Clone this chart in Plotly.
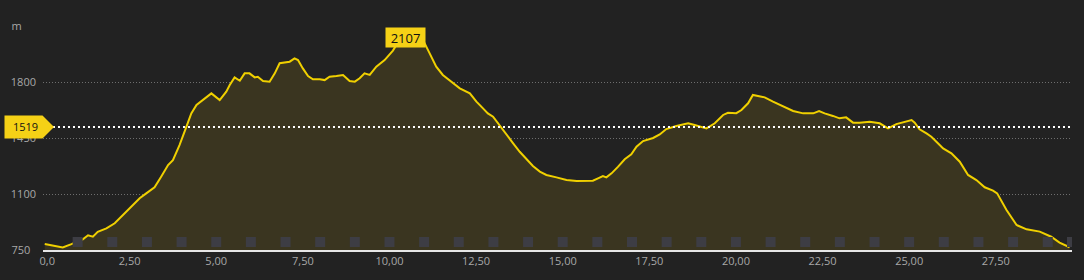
import plotly.graph_objects as go

# ---- data ----
km = [0.05, 0.33, 0.57, 0.82, 1.00, 1.15, 1.30, 1.44, 1.58, 1.83, 2.07, 2.31, 2.55, 2.79, 2.98,
      3.22, 3.41, 3.61, 3.75, 3.94, 4.14, 4.28, 4.43, 4.62, 4.86, 5.10, 5.29, 5.39, 5.53, 5.68,
      5.82, 5.96, 6.11, 6.20, 6.35, 6.54, 6.69, 6.83, 6.97, 7.12, 7.26, 7.36, 7.50, 7.65, 7.79,
      7.99, 8.13, 8.27, 8.47, 8.66, 8.85, 9.00, 9.14, 9.28, 9.43, 9.62, 9.86, 10.10, 10.28, 10.45,
      10.72, 10.97, 11.16, 11.35, 11.54, 11.74, 12.03, 12.32, 12.51, 12.70, 12.84, 12.99, 13.18,
      13.37, 13.57, 13.76, 13.95, 14.14, 14.34, 14.53, 14.82, 15.11, 15.40, 15.68, 15.87, 16.02,
      16.16, 16.26, 16.41, 16.60, 16.79, 16.98, 17.13, 17.32, 17.61, 17.80, 17.99, 18.28, 18.62,
      18.81, 19.15, 19.39, 19.63, 19.77, 20.01, 20.16, 20.35, 20.49, 20.64, 20.83, 21.07, 21.36,
      21.65, 21.94, 22.23, 22.40, 22.56, 22.80, 22.99, 23.18, 23.38, 23.57, 23.86, 24.15, 24.39,
      24.63, 24.87, 25.07, 25.16, 25.30, 25.50, 25.64, 25.83, 25.98, 26.22, 26.46, 26.70, 26.94,
      27.18, 27.42, 27.54, 27.81, 28.10, 28.39, 28.77, 29.10, 29.34, 29.63]
elevation = [788, 777, 766, 787, 803, 817, 842, 833, 864, 885, 917, 969, 1021, 1073, 1104,
             1142, 1208, 1281, 1312, 1406, 1521, 1604, 1656, 1687, 1729, 1687, 1740, 1781, 1829, 1808,
             1854, 1854, 1829, 1833, 1806, 1802, 1854, 1917, 1921, 1927, 1948, 1937, 1885, 1837, 1817,
             1817, 1812, 1833, 1837, 1844, 1806, 1802, 1823, 1854, 1844, 1896, 1937, 1996, 2060, 2107,
             2095, 2062, 1979, 1896, 1844, 1812, 1760, 1729, 1677, 1635, 1604, 1583, 1531,
             1479, 1417, 1364, 1317, 1275, 1240, 1219, 1204, 1187, 1181, 1183, 1183, 1198,
             1212, 1204, 1229, 1271, 1317, 1348, 1396, 1431, 1450, 1472, 1506, 1525, 1542,
             1531, 1510, 1542, 1594, 1608, 1605, 1625, 1667, 1719, 1712, 1704, 1677, 1650,
             1619, 1604, 1604, 1619, 1604, 1588, 1573, 1579, 1546, 1546, 1552, 1542, 1510,
             1537, 1552, 1562, 1546, 1504, 1479, 1458, 1417, 1385, 1354, 1302, 1219, 1187,
             1142, 1121, 1104, 1000, 906, 879, 865, 833, 796, 767]

km_markers = [1, 2, 3, 4, 5, 6, 7, 8, 9, 10, 11, 12, 13, 14, 15, 16, 17, 18, 19, 20,
              21, 22, 23, 24, 25, 26, 27, 28, 29, 29.7]

avg_elev = 1519

x_tickvals = [0, 2.5, 5, 7.5, 10, 12.5, 15, 17.5, 20, 22.5, 25, 27.5]
x_ticktext = ["0,0", "2,50", "5,00", "7,50", "10,00", "12,50", "15,00", "17,50",
              "20,00", "22,50", "25,00", "27,50"]
y_tickvals = [750, 1100, 1450, 1800, 2150]
y_ticktext = ["750", "1100", "1450", "1800", "m"]

x_range = [0, 29.7]
y_range = [750, 2150]

# ---- style ----
BG = "#222222"
YELLOW = "#f0d000"
LABEL_YELLOW = "#f5d116"
FILL = "#3a3520"
TICK_COLOR = "#a8a8a8"
FONT = "Open Sans"

NBSP = "\u00a0"
# left-align y labels (labels are right-aligned by plotly): pad short ones
pad = {"750": 2, "m": 5}
y_ticktext_disp = [t + NBSP * pad.get(t, 0) for t in y_ticktext]
x_ticktext_disp = [(NBSP * 3 + t) if v == 0 else t for v, t in zip(x_tickvals, x_ticktext)]

peak_elev = max(elevation)
peak_km = km[elevation.index(peak_elev)]

fig = go.Figure()
fig.add_trace(go.Scatter(
    x=km, y=elevation, mode="lines",
    line=dict(color=YELLOW, width=2),
    fill="tozeroy", fillcolor=FILL,
    hoverinfo="skip", showlegend=False,
))
fig.add_trace(go.Scatter(
    x=km_markers, y=[800] * len(km_markers), mode="markers",
    marker=dict(symbol="square", size=10, color="#3d3d44", line=dict(width=0)),
    hoverinfo="skip", showlegend=False,
))

# average elevation line + marker
fig.add_shape(type="line", xref="paper", yref="y", x0=0, x1=1, y0=avg_elev, y1=avg_elev,
              line=dict(color="#ffffff", width=2, dash="2px,3px"), layer="above")
fig.add_shape(type="path", xref="paper", yref="y", xsizemode="pixel", ysizemode="pixel",
              xanchor=0, yanchor=avg_elev,
              path="M -38.5,-11.5 L -0.5,-11.5 L 11,0 L -0.5,11.5 L -38.5,11.5 Z",
              fillcolor=LABEL_YELLOW, line=dict(width=0), layer="above")
fig.add_annotation(xref="paper", yref="y", x=0, y=avg_elev, xshift=-18, text=str(avg_elev),
                   showarrow=False, font=dict(family=FONT, size=11, color="#111111"),
                   xanchor="center", yanchor="middle")

# peak label
fig.add_annotation(x=peak_km, y=peak_elev, text=str(peak_elev), showarrow=False,
                   yshift=-4.5, bgcolor=LABEL_YELLOW, width=39, height=19,
                   font=dict(family=FONT, size=13, color="#111111"),
                   xanchor="center", yanchor="middle", borderpad=0)

fig.update_layout(
    width=1084, height=280,
    margin=dict(l=43, r=12, t=26, b=30),
    paper_bgcolor=BG, plot_bgcolor=BG,
    font=dict(family=FONT, size=11, color=TICK_COLOR),
    showlegend=False,
)
fig.update_xaxes(
    range=x_range, tickvals=x_tickvals, ticktext=x_ticktext_disp,
    showgrid=False, zeroline=False, showline=True, linecolor="#e6e6e6", linewidth=2,
    ticks="", tickfont=dict(family=FONT, size=11, color=TICK_COLOR),
)
fig.update_yaxes(
    range=y_range, tickvals=y_tickvals, ticktext=y_ticktext_disp,
    showgrid=True, gridcolor="#6e6e6e", gridwidth=1, griddash="1px,2px",
    zeroline=False, showline=False, ticks="", ticklabelstandoff=6,
    tickfont=dict(family=FONT, size=11, color=TICK_COLOR),
)

fig.write_html("out.html")
